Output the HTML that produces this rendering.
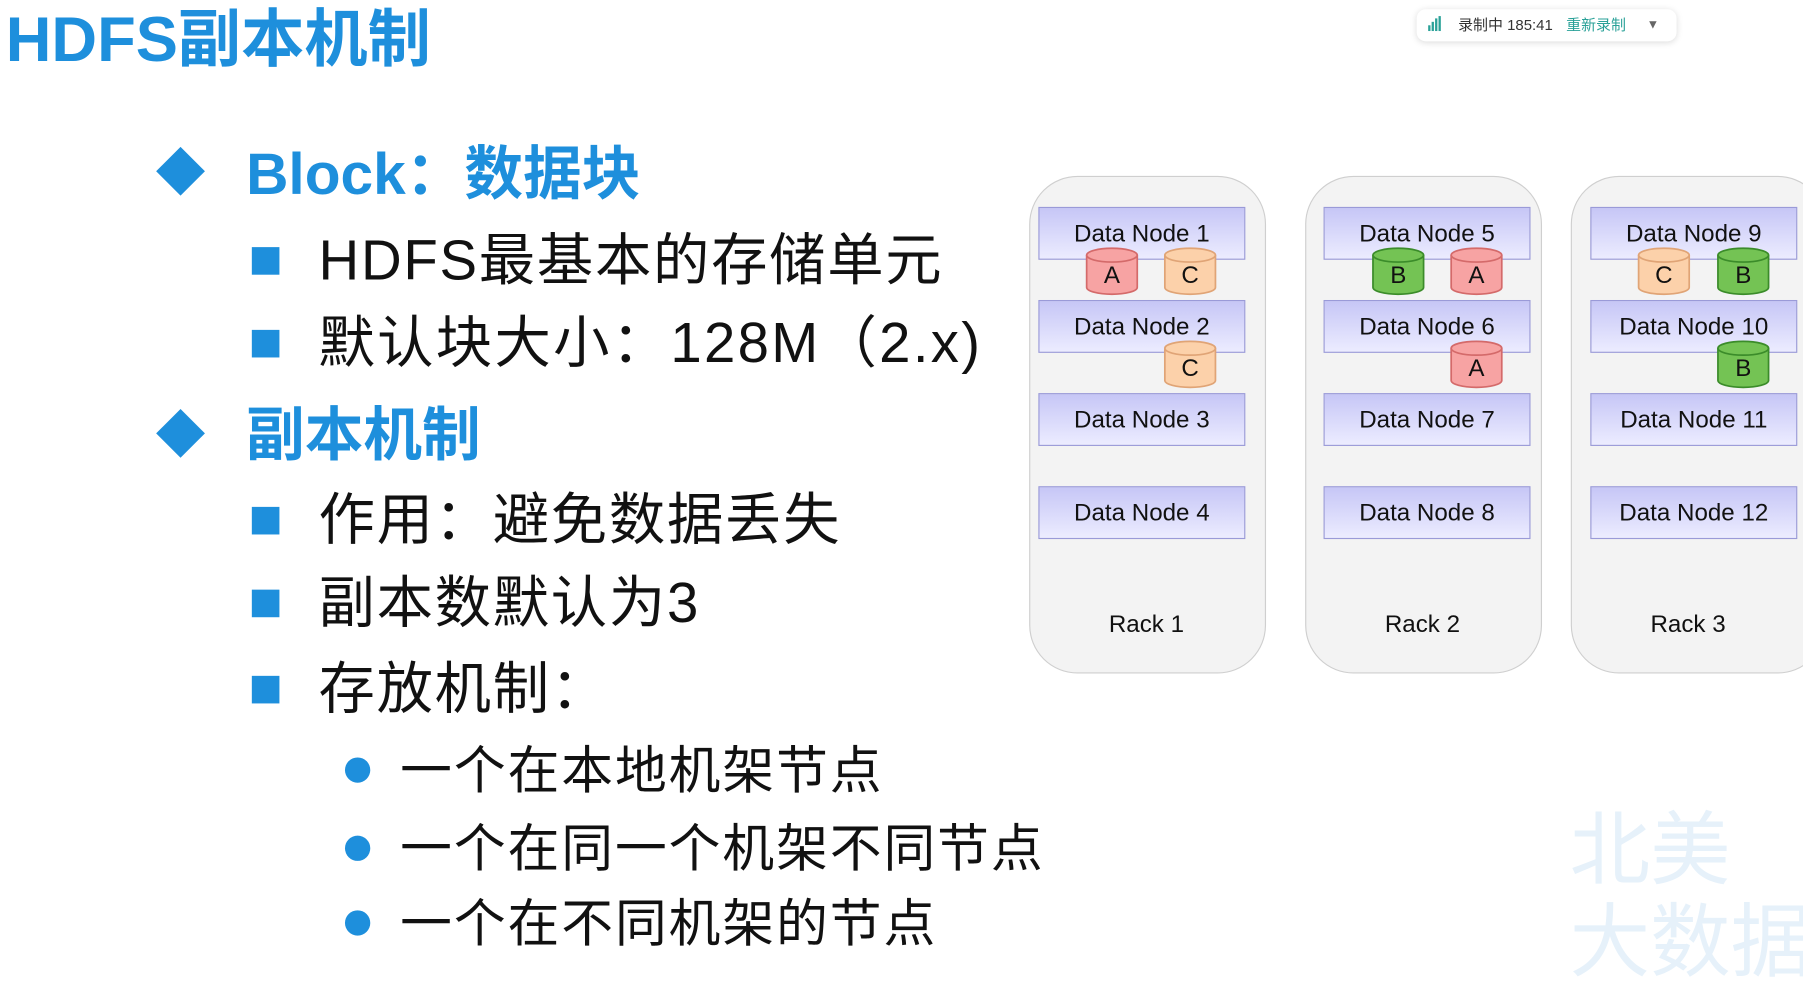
<!DOCTYPE html>
<html><head><meta charset="utf-8"><style>
html,body{margin:0;padding:0;background:#fff;overflow:hidden}
#w{position:absolute;left:0;top:0;width:1568px;height:830px;transform:scale(1.1499,1.1494);transform-origin:0 0;font-family:"Liberation Sans","Noto Sans CJK SC",sans-serif}
.a{position:absolute;white-space:nowrap}
.t{color:#1e8fdc;font-weight:bold}
.sq{position:absolute;width:24px;height:24px;background:#1e8fdc}
.ci{position:absolute;width:22px;height:22px;border-radius:50%;background:#1e8fdc}
.dm{position:absolute;width:30px;height:30px;background:#1e8fdc;transform:rotate(45deg)}
.bt{font-size:49px;color:#111;line-height:1;letter-spacing:1.5px}
.st{font-size:45px;color:#111;line-height:1;letter-spacing:1.7px}
.rack{position:absolute;top:153px;width:204px;height:431px;border:1.5px solid #cfcfcf;border-radius:42px;background:#f3f3f3}
.node{position:absolute;width:178px;height:44px;border:1.5px solid #9a9ad8;background:linear-gradient(#c6c6f6,#ececff);font-size:21px;text-align:center;line-height:46px;color:#111;font-family:"Liberation Sans",sans-serif}
.rl{position:absolute;font-size:21px;color:#111;width:204px;text-align:center}
</style></head><body><div id="w">
<div class="a t" style="left:5px;top:2px;font-size:55px;line-height:64px">HDFS副本机制</div>

<div style="position:absolute;left:1232px;top:8px;width:226px;height:28px;border-radius:8px;background:#fff;box-shadow:0 1px 6px rgba(0,0,0,.15);font-size:13px;line-height:28px;color:#333">
<span style="position:absolute;left:10px;top:14px;width:2px;height:5px;background:#2aa198"></span><span style="position:absolute;left:13px;top:11px;width:2px;height:8px;background:#2aa198"></span><span style="position:absolute;left:16px;top:8px;width:2px;height:11px;background:#2aa198"></span><span style="position:absolute;left:19px;top:6px;width:2px;height:13px;background:#2aa198"></span>
<span style="position:absolute;left:36px">录制中 185:41</span><span style="position:absolute;left:130px;color:#2aa198">重新录制</span><span style="position:absolute;left:200px;color:#666;font-size:11px">▼</span></div>

<div class="dm" style="left:142px;top:134px"></div>
<div class="a t" style="left:214px;top:123px;font-size:51px;line-height:58px">Block：数据块</div>
<div class="sq" style="left:219px;top:215px"></div><div class="a bt" style="left:277px;top:203px">HDFS最基本的存储单元</div>
<div class="sq" style="left:219px;top:287px"></div><div class="a bt" style="left:277px;top:275px;letter-spacing:2px">默认块大小：128M（2.x)</div>
<div class="dm" style="left:142px;top:362px"></div>
<div class="a t" style="left:214px;top:350px;font-size:51px;line-height:58px">副本机制</div>
<div class="sq" style="left:219px;top:441px"></div><div class="a bt" style="left:277px;top:429px">作用：避免数据丢失</div>
<div class="sq" style="left:219px;top:513px"></div><div class="a bt" style="left:277px;top:501px">副本数默认为3</div>
<div class="sq" style="left:219px;top:588px"></div><div class="a bt" style="left:277px;top:576px">存放机制：</div>
<div class="ci" style="left:300px;top:659px"></div><div class="a st" style="left:348px;top:648px">一个在本地机架节点</div>
<div class="ci" style="left:300px;top:727px"></div><div class="a st" style="left:348px;top:716px">一个在同一个机架不同节点</div>
<div class="ci" style="left:300px;top:792px"></div><div class="a st" style="left:348px;top:781px">一个在不同机架的节点</div>

<div class="a" style="left:1365px;top:700px;font-size:70px;color:#e6f1fa;line-height:80px">北美<br>大数据</div>

<div class="rack" style="left:895px"></div>
<div class="rack" style="left:1135px"></div>
<div class="rack" style="left:1366px;width:220px"></div>

<div class="node" style="left:903px;top:180px">Data Node 1</div>
<div class="node" style="left:903px;top:261px">Data Node 2</div>
<div class="node" style="left:903px;top:342px">Data Node 3</div>
<div class="node" style="left:903px;top:423px">Data Node 4</div>
<div class="node" style="left:1151px;top:180px">Data Node 5</div>
<div class="node" style="left:1151px;top:261px">Data Node 6</div>
<div class="node" style="left:1151px;top:342px">Data Node 7</div>
<div class="node" style="left:1151px;top:423px">Data Node 8</div>
<div class="node" style="left:1383px;top:180px">Data Node 9</div>
<div class="node" style="left:1383px;top:261px">Data Node 10</div>
<div class="node" style="left:1383px;top:342px">Data Node 11</div>
<div class="node" style="left:1383px;top:423px">Data Node 12</div>

<div class="rl" style="left:895px;top:532px">Rack 1</div>
<div class="rl" style="left:1135px;top:532px">Rack 2</div>
<div class="rl" style="left:1366px;top:532px">Rack 3</div>

<svg style="position:absolute;left:0;top:0" width="1568" height="830" font-family="Liberation Sans,sans-serif" font-size="21" text-anchor="middle">
<defs>
<g id="cy"><path d="M-22,-14 V14 A22,6 0 0 0 22,14 V-14" /><ellipse cx="0" cy="-14" rx="22" ry="6"/></g>
</defs>
<g stroke-width="1.5">
<g fill="#f7a3a3" stroke="#d46a6a"><use href="#cy" x="967" y="236"/><use href="#cy" x="1284" y="236"/><use href="#cy" x="1284" y="317"/></g>
<g fill="#fcd1aa" stroke="#e0a476"><use href="#cy" x="1035" y="236"/><use href="#cy" x="1035" y="317"/><use href="#cy" x="1447" y="236"/></g>
<g fill="#74c354" stroke="#3b8c2a"><use href="#cy" x="1216" y="236"/><use href="#cy" x="1516" y="236"/><use href="#cy" x="1516" y="317"/></g>
</g>
<g fill="#111">
<text x="967" y="246">A</text><text x="1035" y="246">C</text><text x="1216" y="246">B</text><text x="1284" y="246">A</text><text x="1447" y="246">C</text><text x="1516" y="246">B</text>
<text x="1035" y="327">C</text><text x="1284" y="327">A</text><text x="1516" y="327">B</text>
</g>
</svg>
</div></body></html>
